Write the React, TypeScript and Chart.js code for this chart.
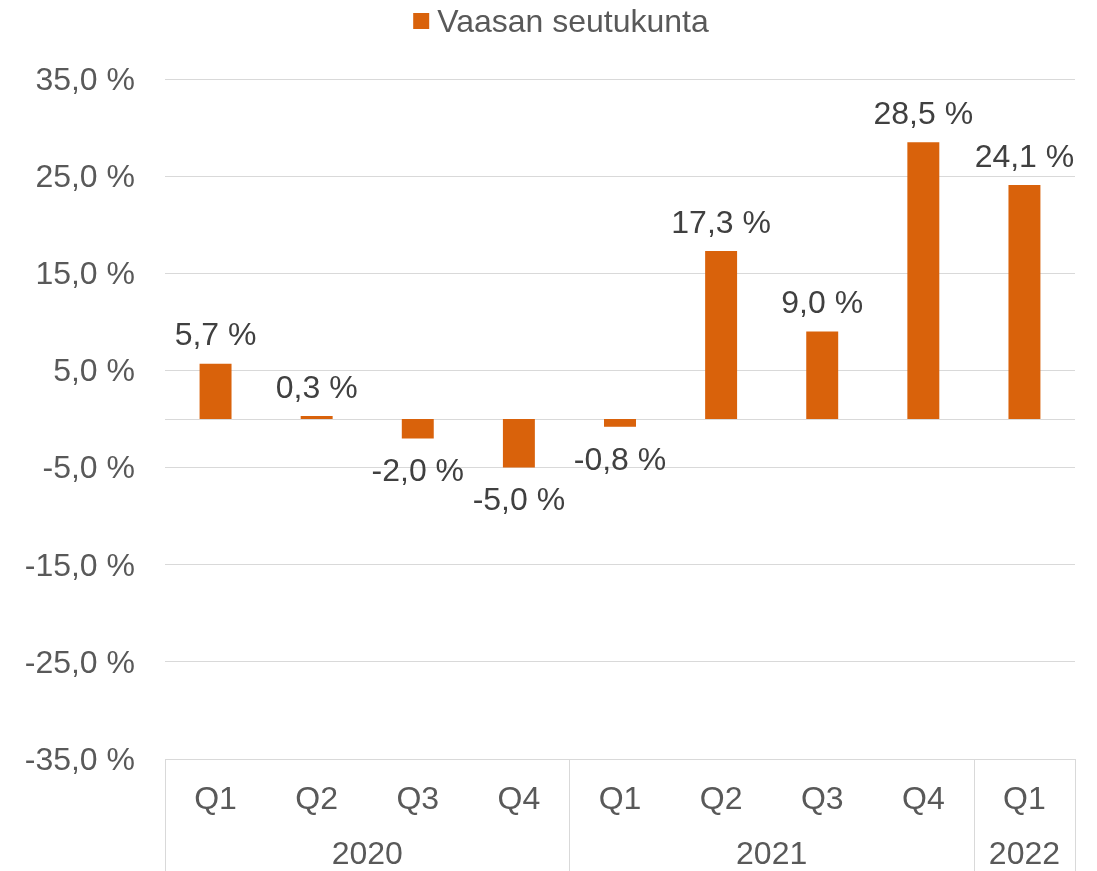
import React, { useEffect, useRef } from "react";
import { Chart, registerables } from "chart.js";

Chart.register(...registerables);

// ---- Data ----
const quarters = ["Q1", "Q2", "Q3", "Q4", "Q1", "Q2", "Q3", "Q4", "Q1"];
const years = ["2020", "2021", "2022"];
const yearSpans = [4, 4, 1];
const values = [5.7, 0.3, -2.0, -5.0, -0.8, 17.3, 9.0, 28.5, 24.1];
const seriesName = "Vaasan seutukunta";
const yTicks = [-35, -25, -15, -5, 5, 15, 25, 35];

// ---- Styles ----
const FONT = "'Liberation Sans', Arial, Helvetica, sans-serif";
const BAR = "#D9620B";
const GRID = "#D9D9D9";
const AXIS_TEXT = "#595959";
const LABEL_TEXT = "#404040";

const fmt = (v: number) => v.toFixed(1).replace(".", ",") + " %";

const customPlugin = {
  id: "customDecor",
  beforeDatasetsDraw(chart: any) {
    const { ctx, chartArea, scales } = chart;
    const py = Math.round(scales.y.getPixelForValue(0)) + 0.5;
    ctx.save();
    ctx.strokeStyle = GRID;
    ctx.lineWidth = 1;
    ctx.beginPath();
    ctx.moveTo(chartArea.left, py);
    ctx.lineTo(chartArea.right, py);
    ctx.stroke();
    ctx.restore();
  },
  afterDatasetsDraw(chart: any) {
    const { ctx } = chart;
    const meta = chart.getDatasetMeta(0);
    ctx.save();
    ctx.font = `32px ${FONT}`;
    ctx.fillStyle = LABEL_TEXT;
    ctx.textAlign = "center";
    ctx.textBaseline = "middle";
    meta.data.forEach((bar: any, i: number) => {
      const v = values[i];
      ctx.fillText(fmt(v), bar.x, v >= 0 ? bar.y - 27 : bar.y + 34);
    });
    ctx.restore();
  },
  afterDraw(chart: any) {
    const { ctx, chartArea, scales } = chart;
    const xs = scales.x;
    const top = chartArea.bottom;
    const bottom = chart.height;
    ctx.save();
    // separators
    ctx.strokeStyle = GRID;
    ctx.lineWidth = 1;
    let idx = 0;
    const bounds: number[] = [0];
    yearSpans.forEach((s) => {
      idx += s;
      bounds.push(idx);
    });
    bounds.forEach((b) => {
      const px = Math.round(xs.getPixelForValue(b - 0.5)) + 0.5;
      ctx.beginPath();
      ctx.moveTo(px, top);
      ctx.lineTo(px, bottom);
      ctx.stroke();
    });
    // year labels
    ctx.font = `32px ${FONT}`;
    ctx.fillStyle = AXIS_TEXT;
    ctx.textAlign = "center";
    ctx.textBaseline = "middle";
    for (let i = 0; i < years.length; i++) {
      const l = xs.getPixelForValue(bounds[i] - 0.5);
      const r = xs.getPixelForValue(bounds[i + 1] - 0.5);
      ctx.fillText(years[i], (l + r) / 2, top + 96);
    }
    // legend
    ctx.font = `32px ${FONT}`;
    const tw = ctx.measureText(seriesName).width;
    const total = 16 + 8 + tw;
    const cx = 561;
    const startX = cx - total / 2;
    ctx.fillStyle = BAR;
    ctx.fillRect(startX, 13, 16, 16);
    ctx.fillStyle = AXIS_TEXT;
    ctx.textAlign = "left";
    ctx.textBaseline = "middle";
    ctx.fillText(seriesName, startX + 24, 23);
    ctx.restore();
  },
};

export default function App() {
  const canvasRef = useRef<HTMLCanvasElement | null>(null);

  useEffect(() => {
    if (!canvasRef.current) return;
    const chart = new Chart(canvasRef.current, {
      type: "bar",
      data: {
        labels: quarters,
        datasets: [
          {
            label: seriesName,
            data: values,
            backgroundColor: BAR,
            borderWidth: 0,
            barPercentage: 0.316,
            categoryPercentage: 1,
          },
        ],
      },
      options: {
        responsive: false,
        animation: false,
        devicePixelRatio: 1,
        layout: { padding: { top: 79, right: 22, left: 0, bottom: 0 } },
        plugins: {
          legend: { display: false },
          tooltip: { enabled: false },
        },
        scales: {
          x: {
            grid: { display: false },
            border: { display: false },
            ticks: {
              font: { family: FONT, size: 32 },
              color: AXIS_TEXT,
              padding: 14,
              maxRotation: 0,
              autoSkip: false,
            },
            afterFit: (s: any) => {
              s.height = 112;
            },
          },
          y: {
            min: -35,
            max: 35,
            afterBuildTicks: (s: any) => {
              s.ticks = yTicks.map((v) => ({ value: v }));
            },
            grid: { color: GRID, drawTicks: false, lineWidth: 1 },
            border: { display: false },
            ticks: {
              font: { family: FONT, size: 32 },
              color: AXIS_TEXT,
              padding: 30,
              labelOffset: 2,
              callback: (v: any) => fmt(Number(v)),
            },
            afterFit: (s: any) => {
              s.width = 165;
            },
          },
        },
      },
      plugins: [customPlugin],
    });
    return () => chart.destroy();
  }, []);

  return (
    <div style={{ position: "fixed", left: 0, top: 0, width: 1097, height: 871, background: "#fff" }}>
      <canvas ref={canvasRef} width={1097} height={871} style={{ display: "block" }} />
    </div>
  );
}
